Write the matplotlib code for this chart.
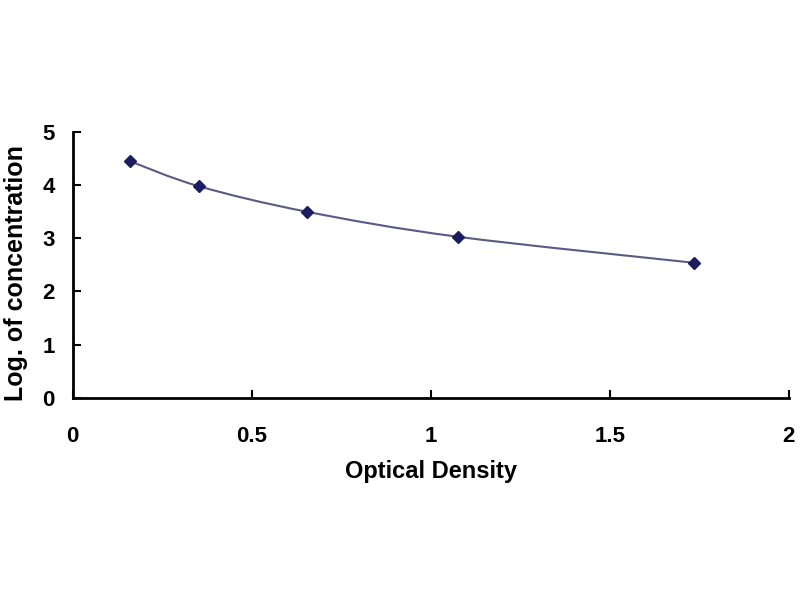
import matplotlib
matplotlib.use("Agg")
import matplotlib.pyplot as plt
import numpy as np
from matplotlib.path import Path
from matplotlib.patches import PathPatch

plt.rcParams['font.family'] = ['Liberation Sans', 'DejaVu Sans']
plt.rcParams['font.weight'] = 'bold'

od = [0.16, 0.352, 0.654, 1.075, 1.735]
log_conc = [4.45, 3.98, 3.50, 3.03, 2.54]

fig = plt.figure(figsize=(8, 6), dpi=100)
ax = fig.add_axes([0.091, 0.337, 0.895, 0.443])

# smoothed line through the points (Catmull-Rom as bezier segments)
pts = np.column_stack([od, log_conc])
verts = [pts[0]]
codes = [Path.MOVETO]
for i in range(len(pts) - 1):
    p0 = pts[i - 1] if i > 0 else pts[i]
    p1 = pts[i]
    p2 = pts[i + 1]
    p3 = pts[i + 2] if i + 2 < len(pts) else pts[i + 1]
    c1 = p1 + (p2 - p0) / 6
    c2 = p2 - (p3 - p1) / 6
    verts += [c1, c2, p2]
    codes += [Path.CURVE4] * 3
ax.add_patch(PathPatch(Path(verts, codes), facecolor='none', edgecolor='#5a5a85', lw=1.5))

ax.plot(od, log_conc, linestyle='none', marker='D', markersize=6, color='#1c1c60')

ax.set_xlim(0, 2)
ax.set_ylim(0, 5)
ax.set_xticks([0, 0.5, 1, 1.5, 2])
ax.set_xticklabels(['0', '0.5', '1', '1.5', '2'])
ax.set_yticks([0, 1, 2, 3, 4, 5])
ax.spines['top'].set_visible(False)
ax.spines['right'].set_visible(False)
ax.spines['left'].set_linewidth(2)
ax.spines['bottom'].set_linewidth(2)
ax.tick_params(direction='in', length=6, width=1.5, labelsize=16)
ax.tick_params(axis='x', pad=20)
ax.tick_params(axis='y', pad=13)
ax.set_xlabel('Optical Density', fontsize=17, fontweight='bold', labelpad=10)
ax.set_ylabel('Log. of concentration', fontsize=18, fontweight='bold')
ax.yaxis.set_label_coords(-0.062, 0.47)

fig.savefig('out.png', dpi=100)
